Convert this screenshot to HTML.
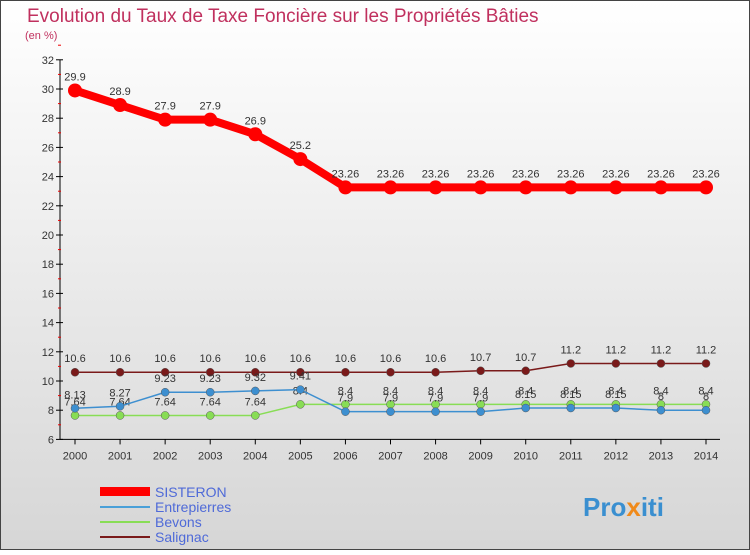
<!DOCTYPE html>
<html><head><meta charset="utf-8"><style>
body{margin:0;width:750px;height:550px;overflow:hidden;font-family:"Liberation Sans",sans-serif;}
svg text{font-family:"Liberation Sans",sans-serif;}
</style></head><body>
<svg id="c" width="750" height="550" xmlns="http://www.w3.org/2000/svg">
<defs><linearGradient id="bg" x1="0" y1="0" x2="0" y2="1"><stop offset="0" stop-color="#ffffff"/><stop offset="1" stop-color="#d6d6d6"/></linearGradient></defs>
<rect x="0.5" y="0.5" width="749" height="549" fill="url(#bg)" stroke="#444"/>
<text x="27" y="22" font-size="19" fill="#c0305e">Evolution du Taux de Taxe Foncière sur les Propriétés Bâties</text>
<text x="25" y="39" font-size="11" fill="#c0305e">(en %)</text>
<g id="axes"></g><g id="series"></g>
<g>
<rect x="100" y="487" width="50" height="9" fill="#ff0000"/>
<text x="155" y="497" font-size="14" fill="#4f6ad8">SISTERON</text>
<rect x="100" y="506" width="50" height="2" fill="#4aa0d8"/>
<text x="155" y="512" font-size="14" fill="#4f6ad8">Entrepierres</text>
<rect x="100" y="521" width="50" height="2" fill="#88dd55"/>
<text x="155" y="527" font-size="14" fill="#4f6ad8">Bevons</text>
<rect x="100" y="536" width="50" height="2" fill="#7a1a1a"/>
<text x="155" y="542" font-size="14" fill="#4f6ad8">Salignac</text>
</g>
<text x="583" y="516" font-size="26" font-weight="bold" fill="#3a8fd0">Pro<tspan fill="#f08a1a">x</tspan>iti</text>
</svg>
<script>
const years=[2000,2001,2002,2003,2004,2005,2006,2007,2008,2009,2010,2011,2012,2013,2014];
const yTicks=[6,8,10,12,14,16,18,20,22,24,26,28,30,32];
const sisteron=[29.9,28.9,27.9,27.9,26.9,25.2,23.26,23.26,23.26,23.26,23.26,23.26,23.26,23.26,23.26];
const entrepierres=[8.13,8.27,9.23,9.23,9.32,9.41,7.9,7.9,7.9,7.9,8.15,8.15,8.15,8,8];
const bevons=[7.64,7.64,7.64,7.64,7.64,8.4,8.4,8.4,8.4,8.4,8.4,8.4,8.4,8.4,8.4];
const salignac=[10.6,10.6,10.6,10.6,10.6,10.6,10.6,10.6,10.6,10.7,10.7,11.2,11.2,11.2,11.2];
const NS="http://www.w3.org/2000/svg";
const x=i=>75+i*(706-75)/(years.length-1);
const y=v=>381-(v-10)*14.6;
function mk(t,a,p){const e=document.createElementNS(NS,t);for(const k in a)e.setAttribute(k,a[k]);p.appendChild(e);return e;}
const ax=document.getElementById('axes');
const yl=mk('line',{x1:60,y1:y(32),x2:60,y2:y(6),stroke:'#000'},ax);


const xl=mk('line',{x1:60,y1:y(6),x2:720,y2:y(6),stroke:'#000'},ax);


yTicks.forEach(v=>{
 mk('line',{x1:56,y1:y(v),x2:63,y2:y(v),stroke:'#000'},ax);
 mk('line',{x1:58,y1:y(v+1),x2:61,y2:y(v+1),stroke:'#e00'},ax);
 const t=mk('text',{x:54,y:y(v)+4,'font-size':11,'text-anchor':'end',fill:'#333'},ax);t.textContent=v;
 
 
});
years.forEach((yr,i)=>{
 mk('line',{x1:x(i),y1:y(6),x2:x(i),y2:y(6)+5,stroke:'#000'},ax);
 const t=mk('text',{x:x(i),y:y(6)+20,'font-size':11,'text-anchor':'middle',fill:'#333'},ax);t.textContent=yr;
 
 
});
const sg=document.getElementById('series');
function draw(vals,name,col,w,r,labOff){
 const g=mk('g',{},sg);
 
 
 const pl=mk('polyline',{points:vals.map((v,i)=>x(i)+','+y(v)).join(' '),fill:'none',stroke:col,'stroke-width':w,'stroke-linejoin':'round'},g);
 
 
 vals.forEach((v,i)=>{
  const c=mk('circle',{cx:x(i),cy:y(v),r:r,fill:col,stroke:w>3?'none':'#555','stroke-width':0.5},g);
  
  
  const t=mk('text',{x:x(i),y:y(v)+labOff,'font-size':11,'text-anchor':'middle',fill:'#333'},g);t.textContent=v;
  
  
 });
}
draw(salignac,'salignac','#7a1a1a',1.5,4,-10);
draw(bevons,'bevons','#88dd55',1.5,4,-10);
draw(entrepierres,'entrepierres','#3d8fd0',1.5,4,-10);
draw(sisteron,'sisteron','#ff0000',8,7,-10);
</script>
</body></html>
